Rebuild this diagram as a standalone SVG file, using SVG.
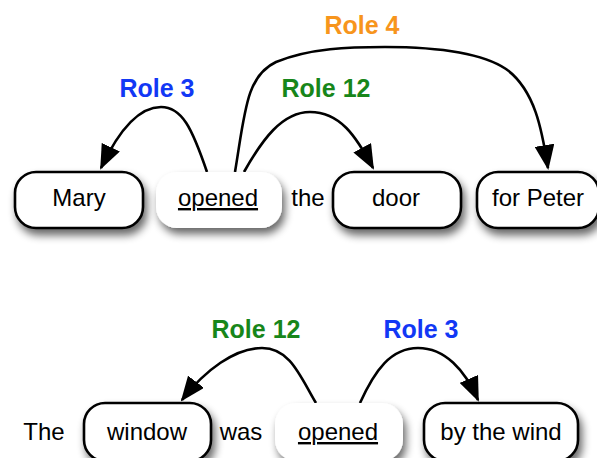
<svg xmlns="http://www.w3.org/2000/svg" width="597" height="458" viewBox="0 0 597 458">
  <defs>
    <filter id="shadow" x="-20%" y="-30%" width="140%" height="170%">
      <feGaussianBlur in="SourceAlpha" stdDeviation="4"/>
      <feOffset dx="3" dy="6" result="blur"/>
      <feComponentTransfer><feFuncA type="linear" slope="0.6"/></feComponentTransfer>
      <feMerge><feMergeNode/><feMergeNode in="SourceGraphic"/></feMerge>
    </filter>
    <marker id="arrow" markerUnits="userSpaceOnUse" markerWidth="25" markerHeight="20" refX="23" refY="10" orient="auto">
      <path d="M0,0 L25,10 L0,20 z" fill="#000"/>
    </marker>
  </defs>
  <style>
    .box { fill: #fff; stroke: #000; stroke-width: 2.6; filter: url(#shadow); }
    .head { fill: #fff; stroke: none; filter: url(#shadow); }
    .word { font-family: "Liberation Sans", Arial, sans-serif; font-size: 24px; fill: #000; text-anchor: middle; }
    .role { font-family: "Liberation Sans", Arial, sans-serif; font-size: 25px; font-weight: bold; text-anchor: middle; }
    .blue { fill: #1238f5; }
    .green { fill: #17861a; }
    .orange { fill: #f7951c; }
    .edge { fill: none; stroke: #000; stroke-width: 2.6; marker-end: url(#arrow); }
  </style>

  <!-- connectors -->
  <g id="connectors">
    <path class="edge" d="M207,172 C192,128 182,107 161,107 C138,107 118,132 101,168"/>
    <path class="edge" d="M244,172 C262,140 282,112 310,112 C340,112 356,136 373,168"/>
    <path class="edge" d="M235,172 C245,112 246,76 276,62 C310,48 350,47 385,47 C440,47 482,53 506,69 C535,90 542,130 548,168"/>
    <path class="edge" d="M316,403 C300,376 290,348 262,348 C235,348 205,370 182,400"/>
    <path class="edge" d="M360,403 C375,370 391,348 418,348 C445,348 465,370 478,400"/>
  </g>

  <!-- role labels -->
  <g id="labels">
    <text class="role orange" x="362" y="34">Role 4</text>
    <text class="role blue" x="157" y="97">Role 3</text>
    <text class="role green" x="326" y="97">Role 12</text>
    <text class="role green" x="256" y="338">Role 12</text>
    <text class="role blue" x="421" y="338">Role 3</text>
  </g>

  <!-- first sentence -->
  <g id="mary"><rect class="box" x="15" y="172" width="128" height="56" rx="21"/><text class="word" x="79" y="206">Mary</text></g>
  <g id="opened1"><rect class="head" x="156" y="172" width="126" height="56" rx="21"/><text class="word" x="218" y="206" text-decoration="underline">opened</text></g>
  <g id="the1"><text class="word" x="308" y="206">the</text></g>
  <g id="door"><rect class="box" x="333" y="172" width="128" height="56" rx="21"/><text class="word" x="396" y="206">door</text></g>
  <g id="forPeter"><rect class="box" x="477" y="172" width="122" height="56" rx="21"/><text class="word" x="538" y="206">for Peter</text></g>

  <!-- second sentence -->
  <g id="the2"><text class="word" x="44" y="440">The</text></g>
  <g id="window"><rect class="box" x="84" y="403" width="127" height="58" rx="21"/><text class="word" x="147" y="440">window</text></g>
  <g id="was"><text class="word" x="241" y="440">was</text></g>
  <g id="opened2"><rect class="head" x="275" y="403" width="128" height="58" rx="21"/><text class="word" x="338" y="440" text-decoration="underline">opened</text></g>
  <g id="byTheWind"><rect class="box" x="424" y="403" width="154" height="58" rx="21"/><text class="word" x="501" y="440">by the wind</text></g>
</svg>
